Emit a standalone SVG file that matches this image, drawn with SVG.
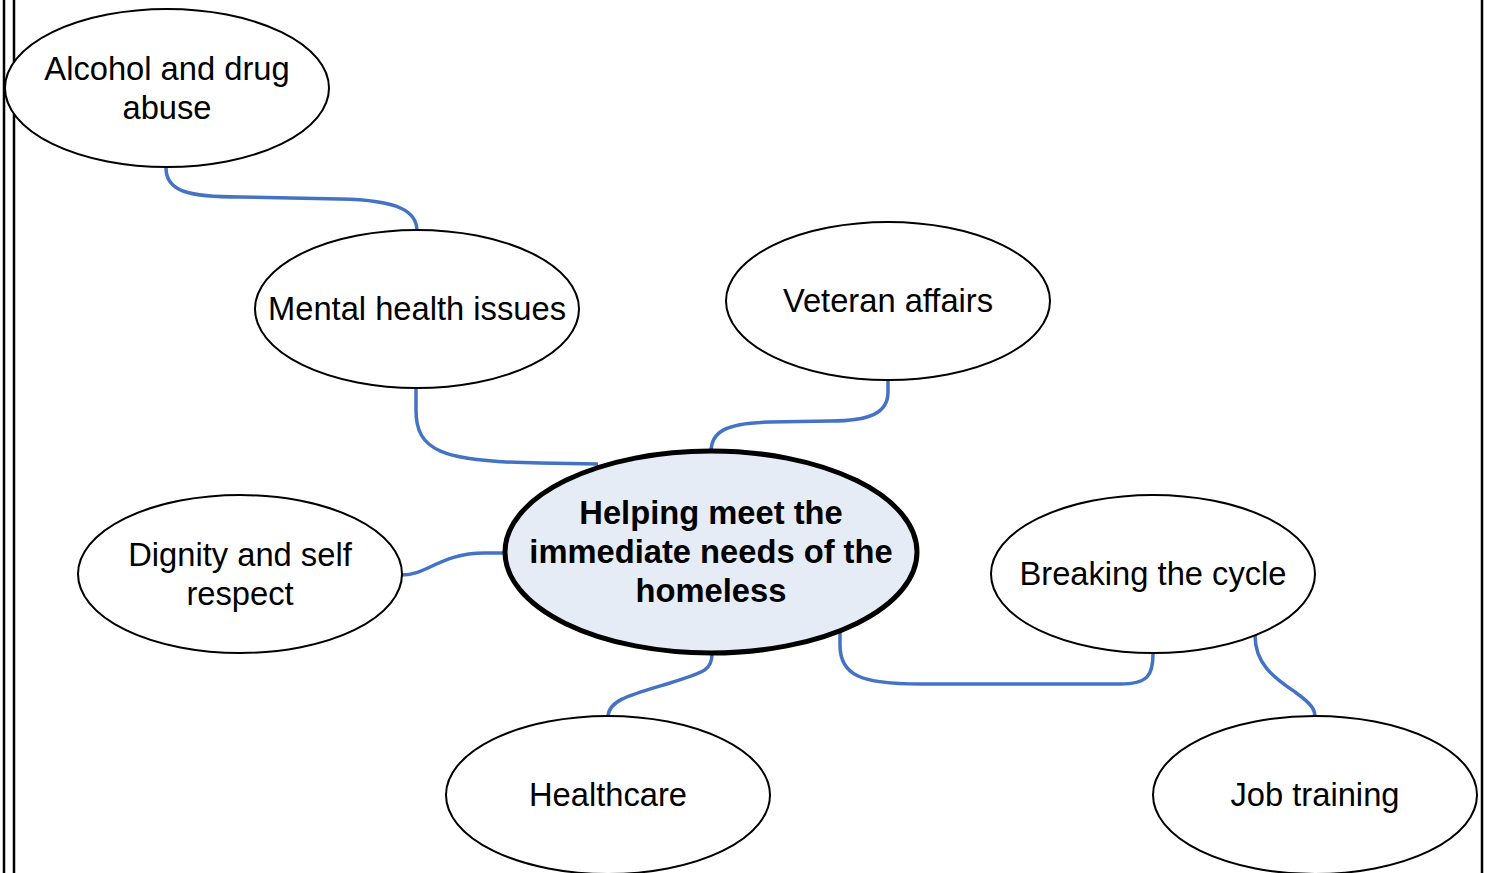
<svg xmlns="http://www.w3.org/2000/svg" width="1491" height="873" viewBox="0 0 1491 873">
  <style>
    .node { fill: #ffffff; stroke: #000000; stroke-width: 2; }
    .hub { fill: #e6ecf6; stroke: #000000; stroke-width: 5; }
    .label { font-family: "Liberation Sans", Arial, sans-serif; font-size: 32.7px; fill: #000000; text-anchor: middle; }
    .hub-label { font-weight: bold; }
    .link { fill: none; stroke: #4472c4; stroke-width: 3.5; stroke-linecap: butt; }
    .frame { stroke: #000000; stroke-width: 2.5; }
  </style>

  <rect x="0" y="0" width="1491" height="873" fill="#ffffff"/>

  <!-- page frame -->
  <g id="frame">
    <line class="frame" x1="4" y1="0" x2="4" y2="873"/>
    <line class="frame" x1="14" y1="0" x2="14" y2="873"/>
    <line class="frame" x1="1482" y1="0" x2="1482" y2="873" stroke-width="3"/>
  </g>

  <!-- connectors -->
  <g id="connectors">
    <path class="link" d="M166,168 C166,192 190,197 240,197 L340,199 C400,200 417,212 417,231"/>
    <path class="link" d="M416,389 L416,410 C416,450 440,462 540,463 L598,464"/>
    <path class="link" d="M888,381 L888,392 C888,413 870,421 830,421 L770,422 C725,423 711,432 711,452"/>
    <path class="link" d="M402,575 C428,575 440,553 485,553 L506,553"/>
    <path class="link" d="M712,654 C712,672 700,673 670,683 C630,695 608,700 608,717"/>
    <path class="link" d="M840,630 L840,645 C840,675 860,684 920,684 L1120,684 C1148,684 1153,675 1153,654"/>
    <path class="link" d="M1255,635 C1255,665 1275,678 1295,692 C1313,705 1315,710 1315,717"/>
  </g>

  <g id="node-alcohol">
    <ellipse class="node" cx="167" cy="88" rx="162" ry="79"/>
    <text class="label" x="167" y="80">Alcohol and drug</text>
    <text class="label" x="167" y="119">abuse</text>
  </g>

  <g id="node-mental">
    <ellipse class="node" cx="417" cy="309" rx="162" ry="79"/>
    <text class="label" x="417" y="320">Mental health issues</text>
  </g>

  <g id="node-veteran">
    <ellipse class="node" cx="888" cy="301" rx="162" ry="79"/>
    <text class="label" x="888" y="312">Veteran affairs</text>
  </g>

  <g id="node-hub">
    <ellipse class="hub" cx="711" cy="552" rx="206" ry="101"/>
    <text class="label hub-label" x="711" y="524">Helping meet the</text>
    <text class="label hub-label" x="711" y="563">immediate needs of the</text>
    <text class="label hub-label" x="711" y="602">homeless</text>
  </g>

  <g id="node-dignity">
    <ellipse class="node" cx="240" cy="574" rx="162" ry="79"/>
    <text class="label" x="240" y="566">Dignity and self</text>
    <text class="label" x="240" y="605">respect</text>
  </g>

  <g id="node-cycle">
    <ellipse class="node" cx="1153" cy="574" rx="162" ry="79"/>
    <text class="label" x="1153" y="585">Breaking the cycle</text>
  </g>

  <g id="node-healthcare">
    <ellipse class="node" cx="608" cy="795" rx="162" ry="79"/>
    <text class="label" x="608" y="806">Healthcare</text>
  </g>

  <g id="node-job">
    <ellipse class="node" cx="1315" cy="795" rx="162" ry="79"/>
    <text class="label" x="1315" y="806">Job training</text>
  </g>
</svg>
